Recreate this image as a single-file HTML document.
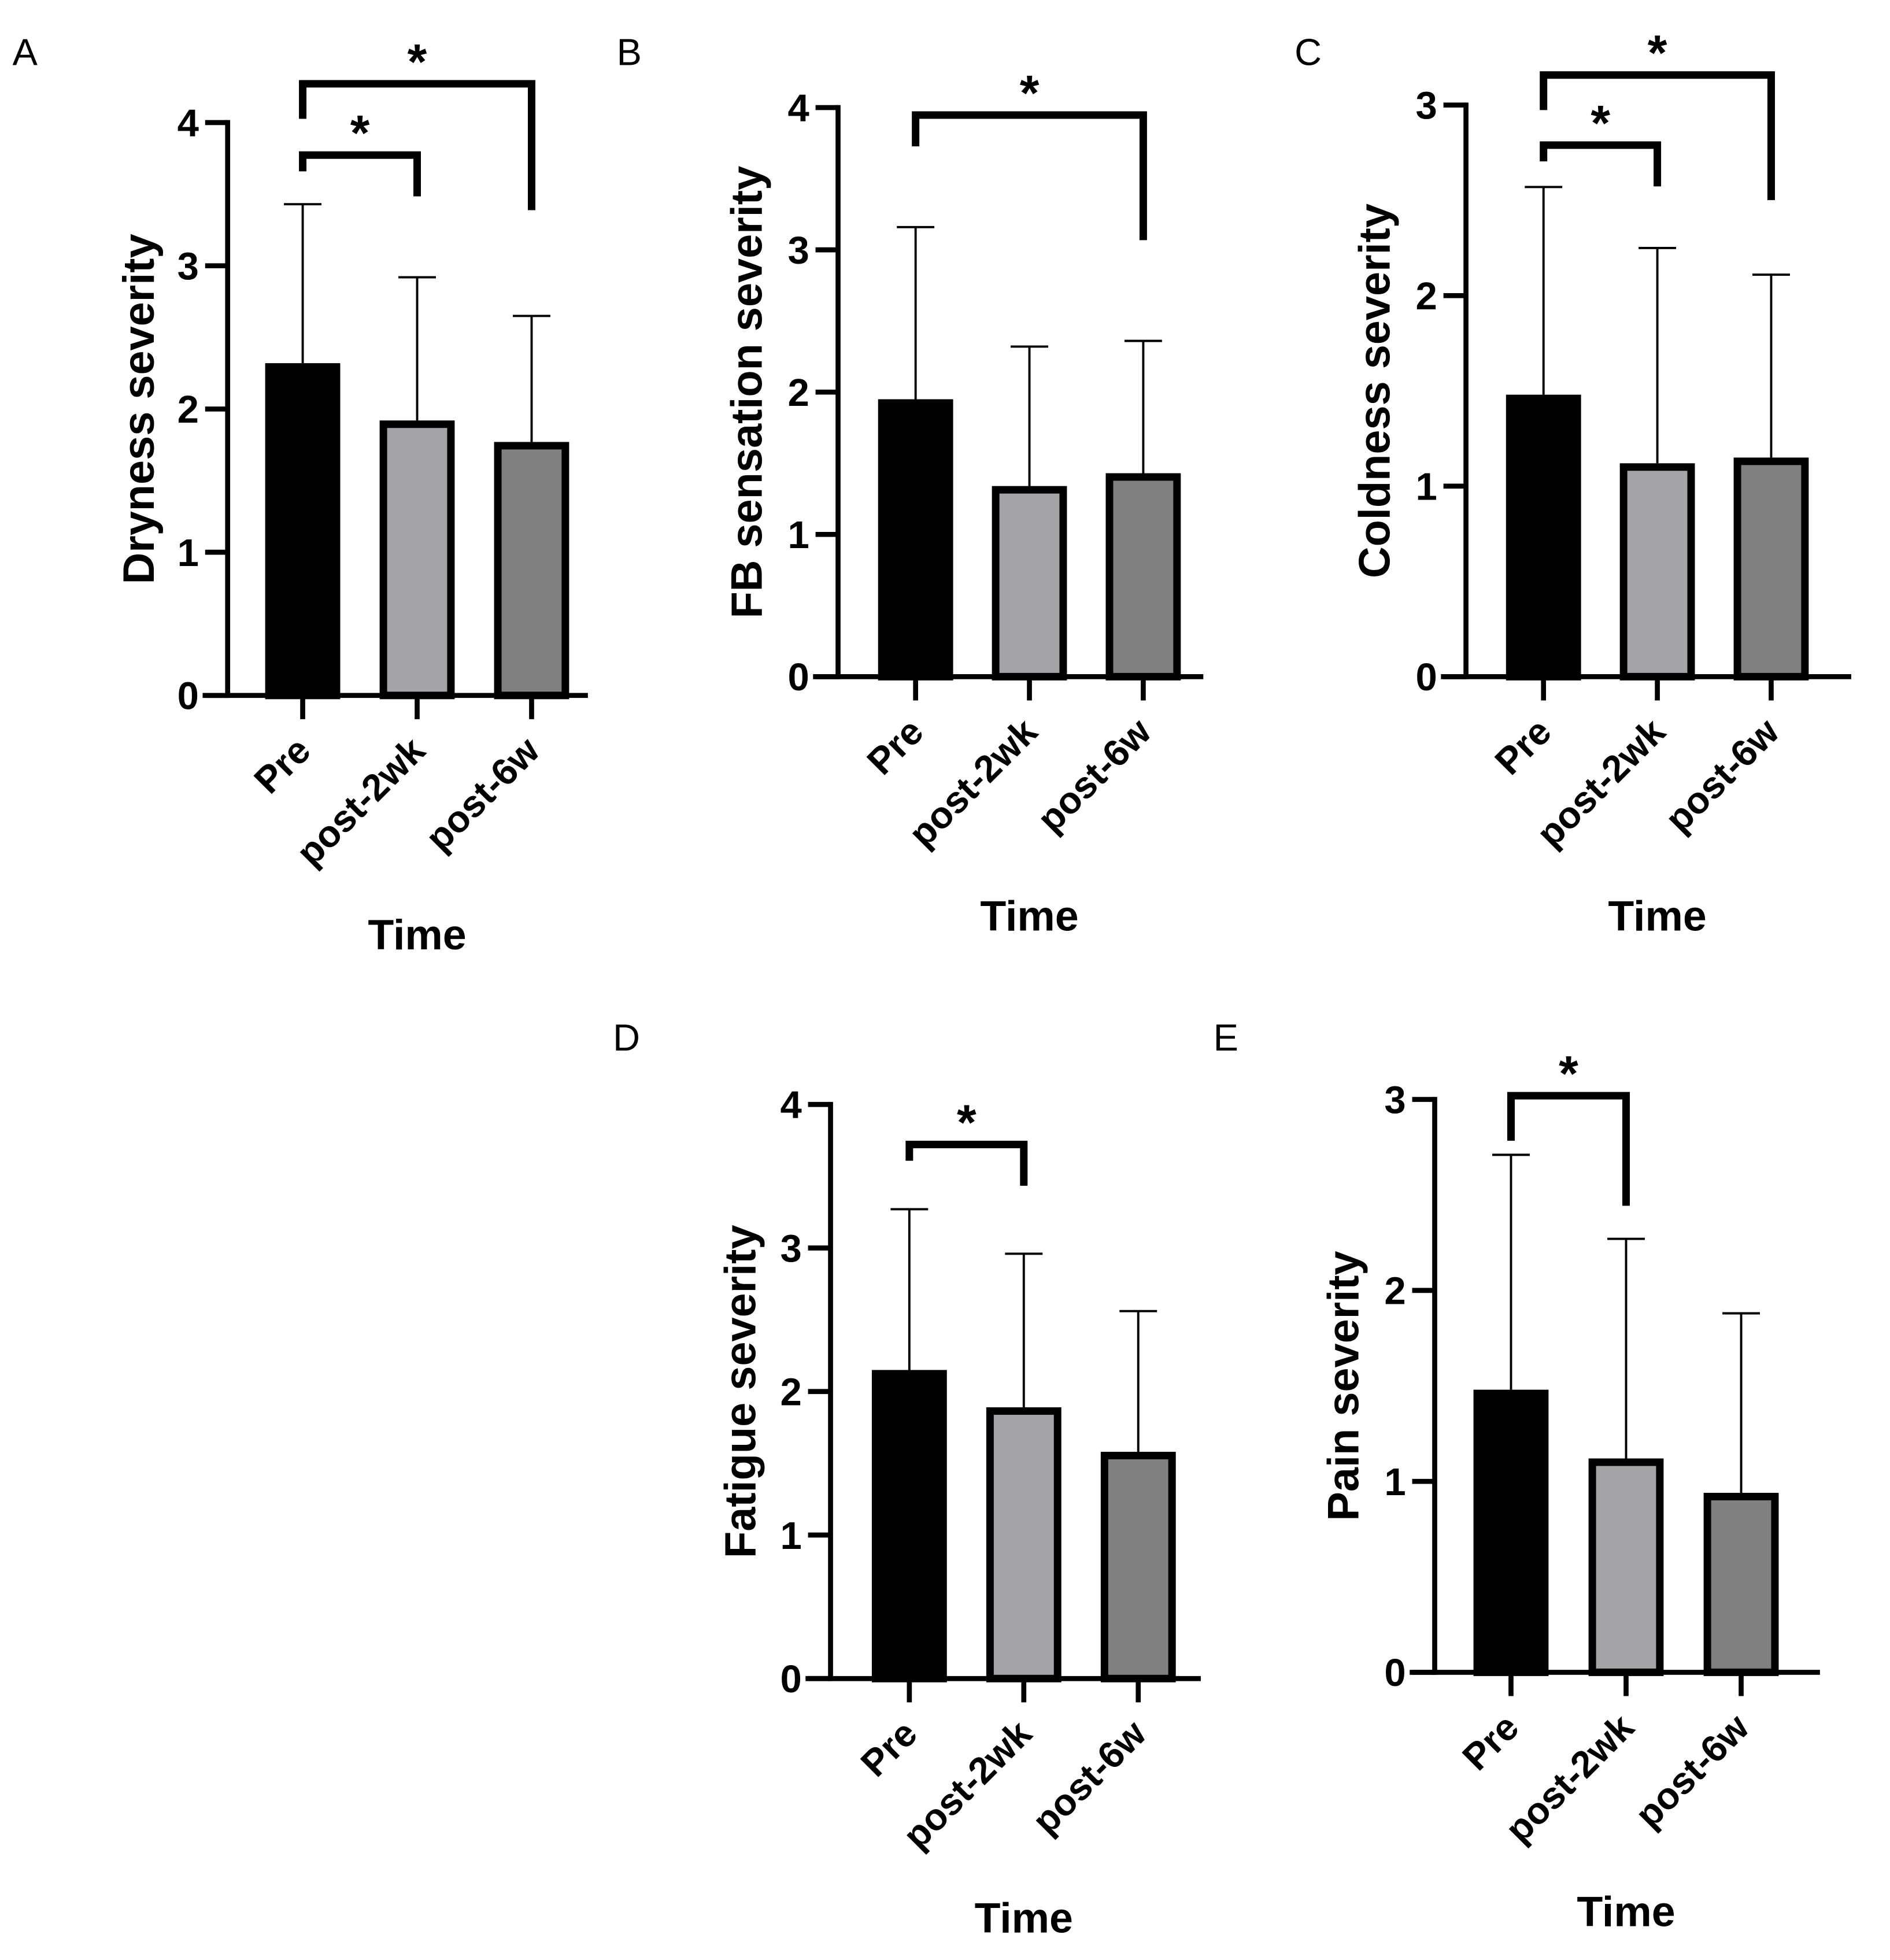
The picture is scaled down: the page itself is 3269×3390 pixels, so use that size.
<!DOCTYPE html>
<html><head><meta charset="utf-8"><style>
html,body{margin:0;padding:0;background:#fff;}
svg{display:block;}
text{font-family:"Liberation Sans",Arial,sans-serif;fill:#000;}
</style></head><body>
<svg id="fig" width="3269" height="3390" viewBox="0 0 1511 1567" preserveAspectRatio="none" xmlns="http://www.w3.org/2000/svg"></svg>
<script>
const categories = ["Pre", "post-2wk", "post-6w"];
const meansA = [2.32, 1.92, 1.77];
const errsA = [3.43, 2.92, 2.65];
const meansB = [1.95, 1.34, 1.43];
const errsB = [3.16, 2.32, 2.36];
const meansC = [1.48, 1.12, 1.15];
const errsC = [2.57, 2.25, 2.11];
const meansD = [2.15, 1.89, 1.58];
const errsD = [3.27, 2.96, 2.56];
const meansE = [1.48, 1.12, 0.94];
const errsE = [2.71, 2.27, 1.88];
const ticks4 = ["0", "1", "2", "3", "4"];
const ticks3 = ["0", "1", "2", "3"];

const NS = "http://www.w3.org/2000/svg";
const svg = document.getElementById('fig');
const fills = ["#000000", "#a4a3a8", "#808080"];
function mk(tag, attrs, parent, txt) {
  const e = document.createElementNS(NS, tag);
  for (const k in attrs) e.setAttribute(k, attrs[k]);
  if (txt !== undefined) e.textContent = txt;
  (parent || svg).appendChild(e);
  return e;
}
function panel(p) {
  const g = mk('g', {});
  
  
  const ymax = p.ticks.length - 1;
  const ys = v => p.y0 - (p.y0 - p.ytop) * v / ymax;
  const bw = 60, step = p.step;
  const xc = i => p.ax + p.off + i * step;
  const lt = mk('text', {x: p.lx, y: p.ly, 'font-size': 30}, g, p.letter);
  
  
  p.means.forEach((m, i) => {
    const x = xc(i);
    const er = mk('line', {x1: x, x2: x, y1: ys(p.errs[i]), y2: ys(m), stroke: '#000', 'stroke-width': 1.8}, g);
    
    
    const cap = mk('line', {x1: x - 15, x2: x + 15, y1: ys(p.errs[i]), y2: ys(p.errs[i]), stroke: '#000', 'stroke-width': 1.8}, g);
    
    
    const r = mk('rect', {x: x - bw / 2 + 3, y: ys(m) + 3, width: bw - 6, height: p.y0 - ys(m) - 3, fill: fills[i], stroke: '#000', 'stroke-width': 6}, g);
    
    
  });
  const ya = mk('line', {x1: p.ax, x2: p.ax, y1: p.ytop - 2, y2: p.y0 + 2, stroke: '#000', 'stroke-width': 4}, g);
  
  
  const xa = mk('line', {x1: p.ax - 20, x2: p.xend, y1: p.y0, y2: p.y0, stroke: '#000', 'stroke-width': 4}, g);
  
  
  p.ticks.forEach((t, i) => {
    const y = ys(i);
    mk('line', {x1: p.ax - 18, x2: p.ax, y1: y, y2: y, stroke: '#000', 'stroke-width': 4}, g);
    const tl = mk('text', {x: p.ax - 23, y: y + 11, 'font-size': 31, 'font-weight': 'bold', 'text-anchor': 'end'}, g, t);
    
    
  });
  categories.forEach((c, i) => {
    const x = xc(i);
    mk('line', {x1: x, x2: x, y1: p.y0, y2: p.y0 + 19, stroke: '#000', 'stroke-width': 4}, g);
    const cl = mk('text', {x: x + 8, y: p.y0 + 46, 'font-size': 30, 'font-weight': 'bold', 'text-anchor': 'end', transform: `rotate(-45 ${x + 8} ${p.y0 + 46})`}, g, c);
    
    
  });
  const xt = mk('text', {x: xc(1), y: p.y0 + 203, 'font-size': 34, 'font-weight': 'bold', 'text-anchor': 'middle'}, g, 'Time');
  
  
  const ycy = (p.y0 + p.ytop) / 2;
  const tx = p.tx;
  const yt = mk('text', {x: tx, y: ycy, 'font-size': 35, 'font-weight': 'bold', 'text-anchor': 'middle', transform: `rotate(-90 ${tx} ${ycy})`}, g, p.title);
  
  
  p.brackets.forEach(b => {
    const x1 = xc(b[0]), x2 = xc(b[1]);
    const br = mk('path', {d: `M${x1} ${b[3]} V${b[2]} H${x2} V${b[4]}`, fill: 'none', stroke: '#000', 'stroke-width': 6}, g);
    
    
    const st = mk('text', {x: (x1 + x2) / 2, y: b[2] - 4, 'font-size': 40, 'font-weight': 'bold', 'text-anchor': 'middle'}, g, '*');
    
    
  });
}
panel({letter: 'A', lx: 10, ly: 52, ax: 182, off: 60, xend: 470, tx: 123, y0: 556, ytop: 98, step: 91.5, ticks: ticks4, means: meansA, errs: errsA, title: 'Dryness severity',
  brackets: [[0, 1, 124, 137, 157], [0, 2, 67, 95, 168]]});
panel({letter: 'B', lx: 493, ly: 52, ax: 670, off: 62, xend: 962, tx: 609, y0: 541, ytop: 86, step: 91, ticks: ticks4, means: meansB, errs: errsB, title: 'FB sensation severity',
  brackets: [[0, 2, 92, 117, 192]]});
panel({letter: 'C', lx: 1035, ly: 52, ax: 1172, off: 62, xend: 1480, tx: 1111, y0: 541, ytop: 84, step: 91, ticks: ticks3, means: meansC, errs: errsC, title: 'Coldness severity',
  brackets: [[0, 1, 116, 129, 149], [0, 2, 60, 88, 160]]});
panel({letter: 'D', lx: 490, ly: 840, ax: 664, off: 63, xend: 960, tx: 604, y0: 1342, ytop: 883, step: 91.5, ticks: ticks4, means: meansD, errs: errsD, title: 'Fatigue severity',
  brackets: [[0, 1, 915, 928, 948]]});
panel({letter: 'E', lx: 970, ly: 840, ax: 1147, off: 61, xend: 1455, tx: 1086, y0: 1337, ytop: 879, step: 92, ticks: ticks3, means: meansE, errs: errsE, title: 'Pain severity',
  brackets: [[0, 1, 876, 912, 964]]});
</script>
</body></html>
